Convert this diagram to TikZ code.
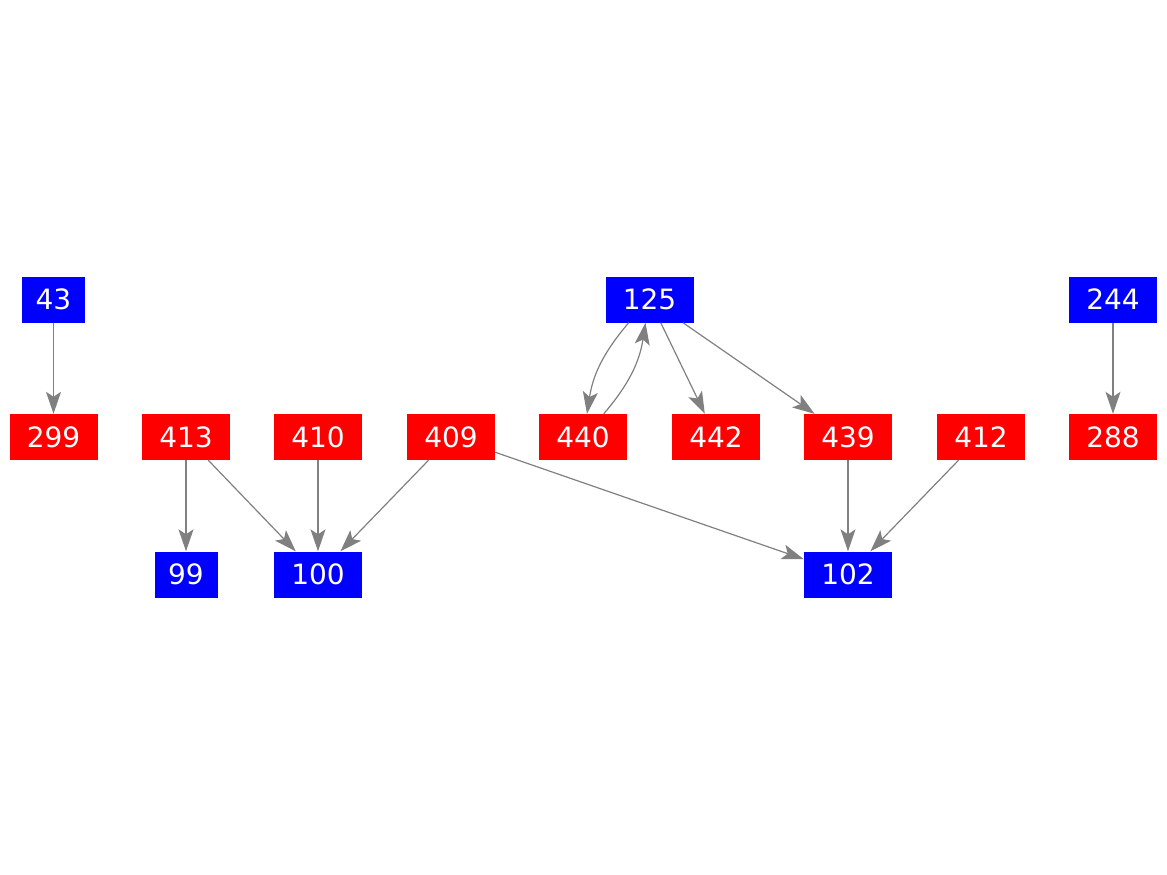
\documentclass[tikz,border=0pt]{standalone}
\usepackage{fontspec}
\setmainfont{DejaVu Sans}
\usetikzlibrary{arrows.meta}
\begin{document}
\begin{tikzpicture}[x=1pt,y=-1pt,
  nbox/.style={draw=none,text=white,font=\fontsize{28}{32}\selectfont,
    minimum height=46pt,inner sep=0pt,anchor=center},
  wide/.style={nbox,minimum width=88pt},
  narrow/.style={nbox,minimum width=63pt},
  bl/.style={fill={rgb,255:red,0;green,0;blue,255}},
  rd/.style={fill={rgb,255:red,255;green,0;blue,0}},
  edge/.style={draw={rgb,255:red,128;green,128;blue,128},line width=1.2pt,
    -{Stealth[length=22pt,width=15pt,inset=5pt]}}]
\useasboundingbox (0,0) rectangle (1167,875);
\node[narrow,bl] (n43) at (53.5,299.5) {43};
\node[wide,bl] (n125) at (649.5,299.5) {125};
\node[wide,bl] (n244) at (1113,299.5) {244};
\node[wide,rd] (n299) at (53.5,437) {299};
\node[wide,rd] (n413) at (186,437) {413};
\node[wide,rd] (n410) at (318,437) {410};
\node[wide,rd] (n409) at (451,437) {409};
\node[wide,rd] (n440) at (583,437) {440};
\node[wide,rd] (n442) at (716,437) {442};
\node[wide,rd] (n439) at (848,437) {439};
\node[wide,rd] (n412) at (981,437) {412};
\node[wide,rd] (n288) at (1113,437) {288};
\node[narrow,bl] (n99) at (186,574.5) {99};
\node[wide,bl] (n100) at (318,574.5) {100};
\node[wide,bl] (n102) at (848,574.5) {102};
\draw[edge] (n43) -- (n299);
\draw[edge] (n244) -- (n288);
\draw[edge] (n125) to[bend right=16] (n440);
\draw[edge] (n440) to[bend right=16] (n125);
\draw[edge] (n125) -- (n442);
\draw[edge] (n125) -- (n439);
\draw[edge] (n413) -- (n99);
\draw[edge] (n413) -- (n100);
\draw[edge] (n410) -- (n100);
\draw[edge] (n409) -- (n100);
\draw[edge] (n409) -- (n102);
\draw[edge] (n439) -- (n102);
\draw[edge] (n412) -- (n102);
\end{tikzpicture}
\end{document}
